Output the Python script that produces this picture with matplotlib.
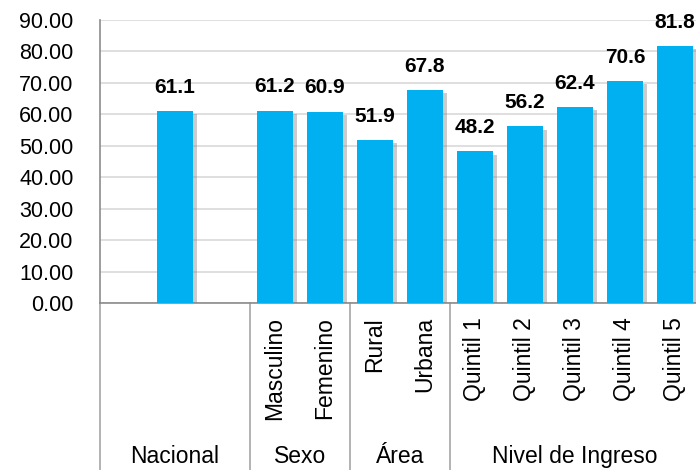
import numpy as np
import matplotlib.pyplot as plt
import matplotlib.patheffects as pe
from matplotlib.ticker import FormatStrFormatter

plt.rcParams['font.family'] = ['Liberation Sans', 'DejaVu Sans']

# datos
categorias = ["Nacional", "Masculino", "Femenino", "Rural", "Urbana",
              "Quintil 1", "Quintil 2", "Quintil 3", "Quintil 4", "Quintil 5"]
valores = [61.1, 61.2, 60.9, 51.9, 67.8, 48.2, 56.2, 62.4, 70.6, 81.8]
grupos = ["Nacional", "Sexo", "Área", "Nivel de Ingreso"]
tam_grupos = [1, 2, 2, 5]

# posiciones: Nacional ocupa 3 espacios, el resto 1
pos = [1] + list(range(3, 12))
bordes = [-0.5, 2.5, 4.5, 6.5, 11.5]
centros_grupo = [1, 3.5, 5.5, 9]

fig = plt.figure(figsize=(6.96, 4.70), dpi=100)
ax = fig.add_axes([100 / 696, 167 / 470, 600 / 696, 283 / 470])

barras = ax.bar(pos, valores, width=0.72, color="#00B0F0", zorder=3)
for b in barras:
    b.set_path_effects([pe.SimplePatchShadow(offset=(3, -2.5), shadow_rgbFace="#7F7F7F",
                                             alpha=0.4), pe.Normal()])

for x, v in zip(pos, valores):
    ax.annotate(f"{v:.1f}", (x, v), xytext=(0, 17), textcoords="offset points",
                ha="center", va="center", fontsize=15, fontweight="bold", zorder=4)

ax.set_xlim(-0.5, 11.5)
ax.set_ylim(0, 90)
ax.set_yticks(np.arange(0, 91, 10))
ax.yaxis.set_major_formatter(FormatStrFormatter("%.2f"))
ax.tick_params(axis="y", length=0, pad=19, labelsize=15.5)
ax.set_xticks([])
ax.grid(axis="y", color="#D9D9D9", linewidth=1.2, zorder=0)

for s in ["top", "right"]:
    ax.spines[s].set_visible(False)
ax.spines["left"].set_color("#8C8C8C")
ax.spines["bottom"].set_color("#8C8C8C")
ax.spines["left"].set_linewidth(1.2)
ax.spines["bottom"].set_linewidth(1.2)

trans = ax.get_xaxis_transform()
# etiquetas de categorias (verticales)
for x, c in zip(pos[1:], categorias[1:]):
    ax.text(x, -0.05, c, rotation=90, ha="center", va="top", fontsize=16.5,
            transform=trans, clip_on=False)

# etiquetas de grupo
for x, g in zip(centros_grupo, grupos):
    ax.text(x, -0.566, g, ha="center", va="baseline", fontsize=16.5,
            transform=trans, clip_on=False)

# lineas divisorias
for x in bordes:
    ax.plot([x, x], [0, -0.6], color="#A6A6A6", linewidth=1.2,
            transform=trans, clip_on=False)

fig.savefig("out.png", dpi=100)
